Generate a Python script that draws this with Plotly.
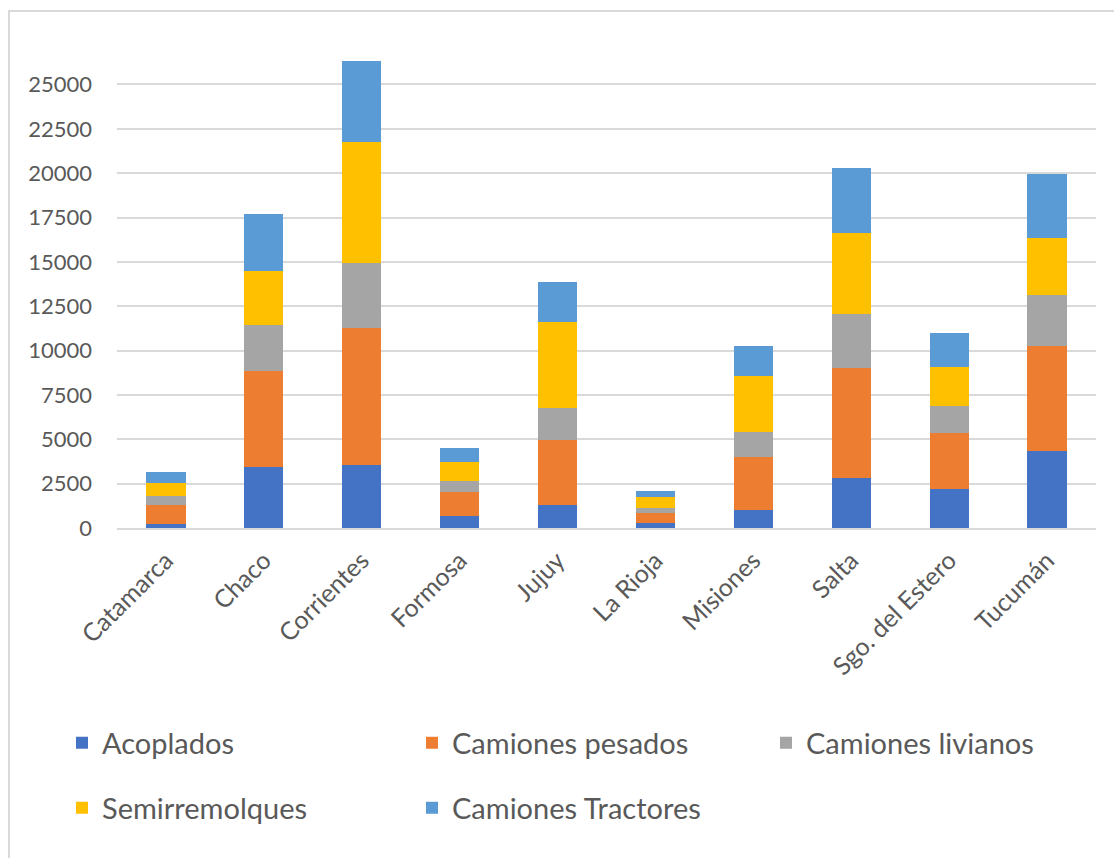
import plotly.graph_objects as go

# Vehicle fleet by province and vehicle type
provincias = ["Catamarca", "Chaco", "Corrientes", "Formosa", "Jujuy",
              "La Rioja", "Misiones", "Salta", "Sgo. del Estero", "Tucumán"]

acoplados = [240, 3450, 3550, 680, 1300, 310, 1030, 2820, 2200, 4340]
camiones_pesados = [1070, 5390, 7710, 1350, 3670, 530, 2970, 6210, 3130, 5920]
camiones_livianos = [520, 2610, 3680, 620, 1800, 280, 1420, 3040, 1540, 2860]
semirremolques = [715, 3040, 6810, 1090, 4840, 620, 3150, 4560, 2230, 3240]
camiones_tractores = [640, 3230, 4580, 790, 2240, 370, 1690, 3680, 1880, 3590]

y_ticks = [0, 2500, 5000, 7500, 10000, 12500, 15000, 17500, 20000, 22500, 25000]
y_tick_text = [str(v) for v in y_ticks]

W, H = 1114, 858
ML, MR, MT, MB = 117, 18, 49, 330
TEXT = "#595959"
GRID = "#d9d9d9"
FONT = "Lato, 'Open Sans', sans-serif"

# name, values, colour, legend id, legend left edge (px), legend row centre (px)
series = [
    ("Acoplados", acoplados, "#4472C4", "legend", 62, 743),
    ("Camiones pesados", camiones_pesados, "#ED7D31", "legend2", 412, 743),
    ("Camiones livianos", camiones_livianos, "#A5A5A5", "legend3", 766, 743),
    ("Semirremolques", semirremolques, "#FFC000", "legend4", 62, 808),
    ("Camiones Tractores", camiones_tractores, "#5B9BD5", "legend5", 412, 808),
]

fig = go.Figure()
legends = {}
for name, vals, color, lg, lx, ly in series:
    fig.add_trace(go.Bar(
        x=provincias, y=vals, name=name, legend=lg, showlegend=True,
        marker=dict(color=color, line=dict(width=0)),
    ))
    legends[lg] = dict(
        orientation="h", xref="container", yref="container",
        xanchor="left", yanchor="middle",
        x=lx / W, y=1 - ly / H,
        font=dict(family=FONT, size=29, color=TEXT),
        bgcolor="rgba(0,0,0,0)",
    )

plot_w = W - ML - MR
plot_h = H - MT - MB


def px_x(p):
    return (p - ML) / plot_w


def px_y(p):
    return (H - MB - p) / plot_h


# outer chart frame
fig.add_shape(type="rect", xref="paper", yref="paper",
              x0=px_x(9), x1=px_x(W + 20), y0=px_y(H + 20), y1=px_y(11),
              line=dict(color=GRID, width=2), fillcolor="rgba(0,0,0,0)",
              layer="below")

fig.update_layout(
    width=W, height=H,
    margin=dict(l=ML, r=MR, t=MT, b=MB, autoexpand=False),
    paper_bgcolor="white", plot_bgcolor="white",
    barmode="stack", bargap=0.6, showlegend=True,
    font=dict(family=FONT, color=TEXT),
    xaxis=dict(
        tickangle=-45, tickfont=dict(size=25, color=TEXT, family=FONT),
        showline=True, linecolor=GRID, linewidth=2, showgrid=False,
        ticks="", ticklabelstandoff=6, fixedrange=True,
    ),
    yaxis=dict(
        range=[0, 27000], tickvals=y_ticks, ticktext=y_tick_text,
        tickfont=dict(size=22, color=TEXT, family=FONT),
        showgrid=True, gridcolor=GRID, gridwidth=2, zeroline=False,
        showline=False, ticks="", ticklabelstandoff=24, fixedrange=True,
    ),
    **legends,
)

fig.write_html("out.html")
